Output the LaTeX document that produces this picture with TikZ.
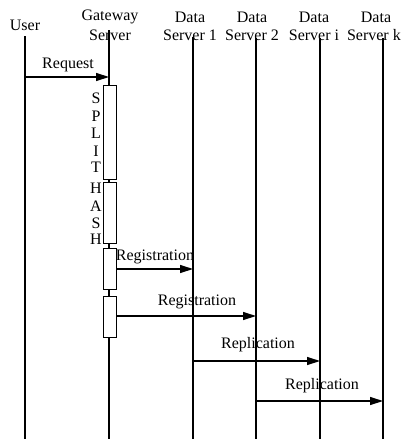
\documentclass[tikz,border=0pt]{standalone}
\usepackage{fontspec}
\setmainfont{Liberation Serif}
\usetikzlibrary{arrows.meta}
\begin{document}
\begin{tikzpicture}[x=1pt,y=-1pt,
  every node/.style={font=\fontsize{16}{18}\selectfont, inner sep=0pt},
  life/.style={line width=1.6pt},
  msg/.style={line width=1.3pt,-{Triangle[length=13pt,width=8pt]}},
  actbox/.style={draw,line width=0.9pt,fill=white,minimum width=13pt}]
\useasboundingbox (0,0) rectangle (402,439);
% lifeline coordinates
\coordinate (u0) at (25,36);   \coordinate (u1) at (25,439);
\coordinate (g0) at (109,30);  \coordinate (g1) at (109,439);
\coordinate (d10) at (193,37); \coordinate (d11) at (193,439);
\coordinate (d20) at (256,38); \coordinate (d21) at (256,439);
\coordinate (di0) at (320,38); \coordinate (di1) at (320,439);
\coordinate (dk0) at (383,38); \coordinate (dk1) at (383,439);
\draw[life] (u0) -- (u1);
\draw[life] (g0) -- (g1);
\draw[life] (d10) -- (d11);
\draw[life] (d20) -- (d21);
\draw[life] (di0) -- (di1);
\draw[life] (dk0) -- (dk1);
% headers
\node (hu) at (25,25) {User};
\node (hg1) at (110,17) {Gateway};
\node (hg2) at (110,35) {Server};
\node (h11) at (190,17) {Data};
\node (h12) at (190,35) {Server 1};
\node (h21) at (252,17) {Data};
\node (h22) at (252,35) {Server 2};
\node (hi1) at (314,17) {Data};
\node (hi2) at (314,35) {Server i};
\node (hk1) at (376,17) {Data};
\node[anchor=east] (hk2) at (401,35) {Server k};
% activation boxes
\node[actbox,minimum height=94pt] (split) at (109.5,132) {};
\node[actbox,minimum height=61pt] (hash) at (109.5,212.5) {};
\node[actbox,minimum height=41pt] (b3) at (109.5,268.5) {};
\node[actbox,minimum height=41pt] (b4) at (109.5,316.5) {};
% letters
\node (s1) at (96,98) {S};
\node (s2) at (96,116) {P};
\node (s3) at (96,133) {L};
\node (s4) at (96,151) {I};
\node (s5) at (96,167) {T};
\node (h1) at (96,188) {H};
\node (h2) at (96,206) {A};
\node (h3) at (96,223) {S};
\node (h4) at (96,239) {H};
% messages
\coordinate (rq0) at (25,77);  \coordinate (rq1) at (109,77);
\draw[msg] (rq0) -- (rq1);
\node (lrq) at (68,65) {Request};
\coordinate (r10) at (b3.east |- 0,269); \coordinate (r11) at (193,269);
\draw[msg] (r10) -- (r11);
\node (lr1) at (155,257) {Registration};
\coordinate (r20) at (b4.east |- 0,316); \coordinate (r21) at (256,316);
\draw[msg] (r20) -- (r21);
\node (lr2) at (197,302) {Registration};
\coordinate (p10) at (193,361); \coordinate (p11) at (320,361);
\draw[msg] (p10) -- (p11);
\node (lp1) at (258,345) {Replication};
\coordinate (p20) at (256,401); \coordinate (p21) at (383,401);
\draw[msg] (p20) -- (p21);
\node (lp2) at (322,386) {Replication};
\end{tikzpicture}
\end{document}
